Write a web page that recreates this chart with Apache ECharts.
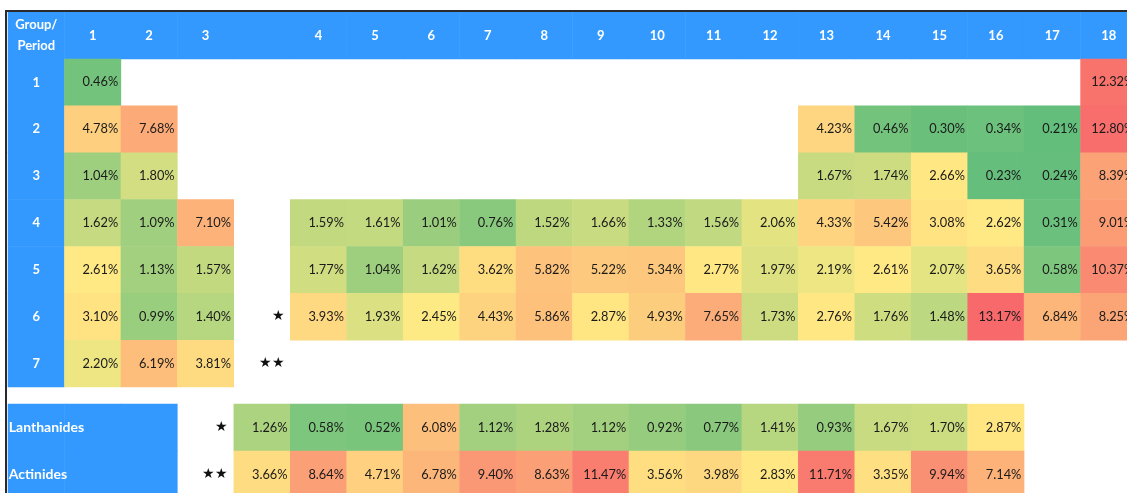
<!DOCTYPE html>
<html><head><meta charset="utf-8">
<script src="https://cdn.jsdelivr.net/npm/echarts@6/dist/echarts.min.js"></script>
<style>html,body{margin:0;padding:0;background:#fff;overflow:hidden;} #c{width:1127px;height:493px;}</style>
</head><body><div id="c"></div>
<script>
// ---- Data ----
const columns = ['Group/\nPeriod','1','2','3','','4','5','6','7','8','9','10','11','12','13','14','15','16','17','18'];
const periods = ['1','2','3','4','5','6','7'];
// values by group 1..18 (null = no element)
const period1 = [0.46,null,null,null,null,null,null,null,null,null,null,null,null,null,null,null,null,12.32];
const period2 = [4.78,7.68,null,null,null,null,null,null,null,null,null,null,4.23,0.46,0.30,0.34,0.21,12.80];
const period3 = [1.04,1.80,null,null,null,null,null,null,null,null,null,null,1.67,1.74,2.66,0.23,0.24,8.39];
const period4 = [1.62,1.09,7.10,1.59,1.61,1.01,0.76,1.52,1.66,1.33,1.56,2.06,4.33,5.42,3.08,2.62,0.31,9.01];
const period5 = [2.61,1.13,1.57,1.77,1.04,1.62,3.62,5.82,5.22,5.34,2.77,1.97,2.19,2.61,2.07,3.65,0.58,10.37];
const period6 = [3.10,0.99,1.40,3.93,1.93,2.45,4.43,5.86,2.87,4.93,7.65,1.73,2.76,1.76,1.48,13.17,6.84,8.25];
const period7 = [2.20,6.19,3.81,null,null,null,null,null,null,null,null,null,null,null,null,null,null,null];
const lanthanides = [1.26,0.58,0.52,6.08,1.12,1.28,1.12,0.92,0.77,1.41,0.93,1.67,1.70,2.87];
const actinides = [3.66,8.64,4.71,6.78,9.40,8.63,11.47,3.56,3.98,2.83,11.71,3.35,9.94,7.14];
const seriesNames = ['Lanthanides','Actinides'];
const periodMarkers = ['','','','','','★','★★'];
const seriesMarkers = ['★','★★'];

// ---- Build ----
const periodRows = [period1,period2,period3,period4,period5,period6,period7];
const colOfGroup = g => (g <= 3 ? g : g + 1);
const BLUE = '#3399FF';
const FONT = 'Lato, "Open Sans", sans-serif';

const headerCells = [];
columns.forEach((c, i) => headerCells.push({value:[i,0,0], name:c}));
periods.forEach((p, i) => headerCells.push({value:[0,i+1,0], name:p}));

const mainCells = [];
periodRows.forEach((row, pi) => row.forEach((v, gi) => {
  if (v != null) mainCells.push([colOfGroup(gi+1), pi+1, v]);
}));
const markerCells = [];
periodMarkers.forEach((m, pi) => { if (m) markerCells.push({value:[4, pi+1, 0], name:m}); });

const fSeriesBlue = [];
seriesNames.forEach((n, ri) => { for (let c = 0; c < 3; c++) fSeriesBlue.push({value:[c, ri, 0], name: c === 0 ? n : ''}); });
const fCells = [];
[lanthanides, actinides].forEach((arr, ri) => arr.forEach((v, i) => fCells.push([4 + i, ri, v])));
const fMarkers = seriesMarkers.map((m, ri) => ({value:[3, ri, 0], name:m}));

const allVals = [...mainCells, ...fCells].map(d => d[2]).sort((a,b)=>a-b);
const vmin = allVals[0], vmax = allVals[allVals.length-1];
const n = allVals.length;
const vmid = n % 2 ? allVals[(n-1)/2] : (allVals[n/2-1] + allVals[n/2]) / 2;

const G = [99,190,123], Y = [255,235,132], R = [248,105,107];
const lerp = (a,b,t) => a.map((x,i)=>Math.round(x+(b[i]-x)*t));
function scale(v){
  const c = v <= vmid ? lerp(G, Y, (v-vmin)/(vmid-vmin)) : lerp(Y, R, (v-vmid)/(vmax-vmid));
  return 'rgb(' + c.join(',') + ')';
}
const stops = [];
const N = 200;
for (let i = 0; i < N; i++) stops.push(scale(vmin + (vmax - vmin) * i / (N - 1)));

const mkAxes = (count) => ({
  x: {type:'category', data: columns.map((_,i)=>i), show:false},
  y: {type:'category', data: Array.from({length:count},(_,i)=>i), inverse:true, show:false}
});

const valueLabel = {show:true, position:'insideRight', distance:3, color:'#1a1a1a', fontFamily:FONT, fontSize:12.8,
  formatter: p => p.value[2].toFixed(2) + '%'};
const blueLabel = {show:true, color:'#fff', fontFamily:FONT, fontWeight:'bold', fontSize:13, lineHeight:21, formatter: p => p.name};
const markerLabel = {show:true, position:'insideRight', distance:6, color:'#111', fontSize:13.5, formatter: p => p.name};

const option = {
  animation:false,
  backgroundColor:'#fff',
  grid:[
    {left:8, top:12, width:1129, height:375, outerBoundsMode:'none', containLabel:false},
    {left:8, top:404, width:1129, height:94, outerBoundsMode:'none', containLabel:false}
  ],
  xAxis:[
    Object.assign({gridIndex:0}, mkAxes(8).x),
    Object.assign({gridIndex:1}, mkAxes(2).x)
  ],
  yAxis:[
    Object.assign({gridIndex:0}, mkAxes(8).y),
    Object.assign({gridIndex:1}, mkAxes(2).y)
  ],
  visualMap:{type:'continuous', show:false, min:vmin, max:vmax, seriesIndex:[1,4], dimension:2,
    inRange:{color:stops}},
  series:[
    {type:'heatmap', xAxisIndex:0, yAxisIndex:0, data:headerCells, itemStyle:{color:BLUE}, label:blueLabel, emphasis:{disabled:true}},
    {type:'heatmap', xAxisIndex:0, yAxisIndex:0, data:mainCells, label:valueLabel, emphasis:{disabled:true}},
    {type:'heatmap', xAxisIndex:0, yAxisIndex:0, data:markerCells, itemStyle:{color:'rgba(0,0,0,0)'}, label:markerLabel, emphasis:{disabled:true}},
    {type:'heatmap', xAxisIndex:1, yAxisIndex:1, data:fSeriesBlue, itemStyle:{color:BLUE},
      label:Object.assign({}, blueLabel, {position:'insideLeft', distance:1, fontSize:14}), emphasis:{disabled:true}, z:2},
    {type:'heatmap', xAxisIndex:1, yAxisIndex:1, data:fCells, label:valueLabel, emphasis:{disabled:true}},
    {type:'heatmap', xAxisIndex:1, yAxisIndex:1, data:fMarkers, itemStyle:{color:'rgba(0,0,0,0)'}, label:markerLabel, emphasis:{disabled:true}}
  ],
  graphic:[
    {type:'line', z:100, shape:{x1:5, y1:11, x2:1127, y2:11}, style:{stroke:'#2a2a2a', lineWidth:2}},
    {type:'line', z:100, shape:{x1:6, y1:10, x2:6, y2:493}, style:{stroke:'#2a2a2a', lineWidth:2}}
  ]
};
const chart = echarts.init(document.getElementById('c'), null, {renderer:'canvas'});
chart.setOption(option);
</script>
</body></html>
